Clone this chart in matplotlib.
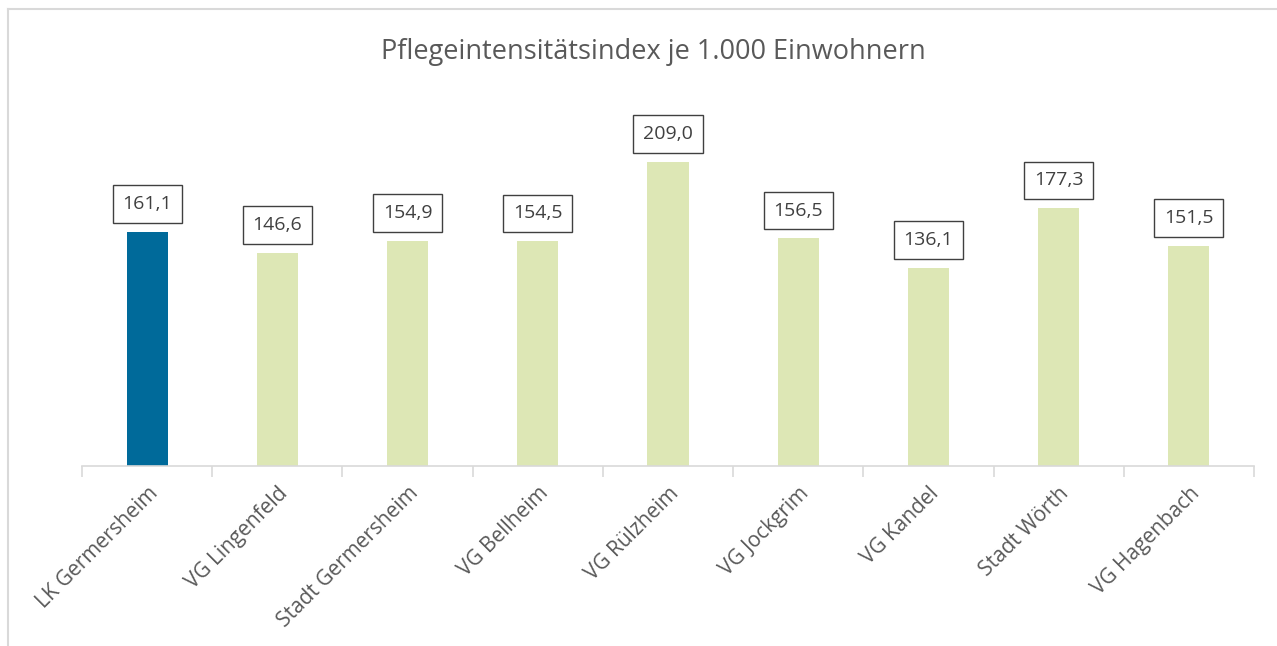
import matplotlib.pyplot as plt
from matplotlib.lines import Line2D

regions = ["LK Germersheim", "VG Lingenfeld", "Stadt Germersheim", "VG Bellheim",
           "VG Rülzheim", "VG Jockgrim", "VG Kandel", "Stadt Wörth", "VG Hagenbach"]
values = [161.1, 146.6, 154.9, 154.5, 209.0, 156.5, 136.1, 177.3, 151.5]
colors = ["#006a9a"] + ["#dde7b5"] * 8

W, H = 1277, 646
fig = plt.figure(figsize=(W / 100, H / 100), dpi=100)
plt.rcParams['font.family'] = ['Open Sans', 'DejaVu Sans']

# outer chart frame (left and top only visible in the crop)
fig.add_artist(Line2D([8 / W, 8 / W], [0, 1 - 9 / H], color="#d9d9d9", lw=1.5))
fig.add_artist(Line2D([8 / W, 1], [1 - 9 / H, 1 - 9 / H], color="#d9d9d9", lw=1.5))

left, right, bottom = 82, 1254, 466
ymax = 250
top = bottom - ymax * 1.455
ax = fig.add_axes([left / W, 1 - bottom / H, (right - left) / W, (bottom - top) / H])

x = list(range(len(regions)))
ax.bar(x, values, width=0.315, color=colors, zorder=2)
ax.set_xlim(-0.5, len(regions) - 0.5)
ax.set_ylim(0, ymax)

for xi, v in zip(x, values):
    ax.annotate(f"{v:.1f}".replace(".", ","), (xi, v), xytext=(0, 20),
                textcoords="offset points", ha="center", va="center",
                fontsize=14, color="#404040",
                bbox=dict(boxstyle="square,pad=0.5", fc="white", ec="#404040", lw=1))

for s in ["top", "right", "left"]:
    ax.spines[s].set_visible(False)
ax.spines["bottom"].set_color("#d9d9d9")
ax.spines["bottom"].set_linewidth(1.2)
ax.set_yticks([])

ax.set_xticks([i - 0.5 for i in range(len(regions) + 1)], minor=False)
ax.set_xticklabels([])
ax.tick_params(axis="x", length=8, color="#d9d9d9", width=1.2)
ax.set_xticks(x, minor=True)
ax.set_xticklabels(regions, minor=True, rotation=45, ha="right", va="top",
                   rotation_mode="anchor", fontsize=15, color="#595959")
ax.tick_params(axis="x", which="minor", length=0, pad=12)

fig.text(653 / W, 1 - 52 / H, "Pflegeintensitätsindex je 1.000 Einwohnern",
         ha="center", va="center", fontsize=19.5, color="#595959")

fig.savefig("out.png", dpi=100)
